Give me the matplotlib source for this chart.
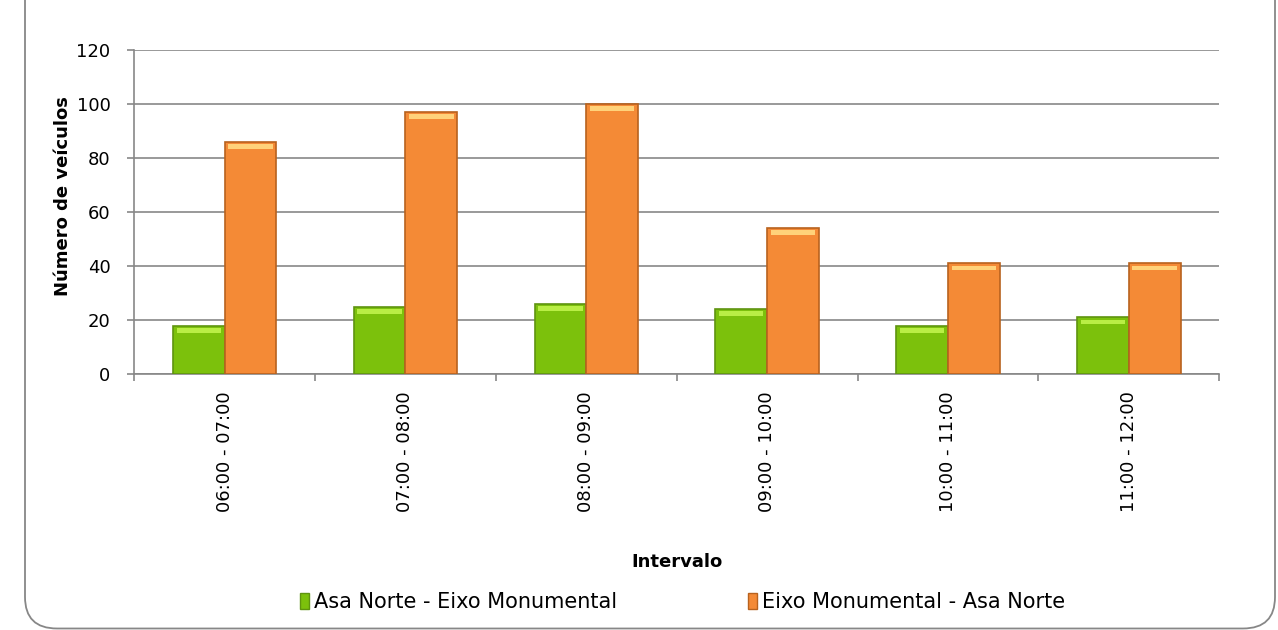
import matplotlib
matplotlib.use("Agg")
import matplotlib.pyplot as plt
import numpy as np
from matplotlib.patches import FancyBboxPatch, Patch

# dados
intervalos = ["06:00 - 07:00", "07:00 - 08:00", "08:00 - 09:00",
              "09:00 - 10:00", "10:00 - 11:00", "11:00 - 12:00"]
asa_norte_eixo = [18, 25, 26, 24, 18, 21]
eixo_asa_norte = [86, 97, 100, 54, 41, 41]
nomes_series = ["Asa Norte - Eixo Monumental", "Eixo Monumental - Asa Norte"]
y_ticks = [0, 20, 40, 60, 80, 100, 120]

plt.rcParams["font.family"] = ["DejaVu Sans"]

VERDE = "#7cc10c"
VERDE_BORDA = "#5f9410"
VERDE_TOPO = "#b9ee45"
LARANJA = "#f48a36"
LARANJA_BORDA = "#b8621e"
LARANJA_TOPO = "#ffd27a"
CINZA = "#878787"

fig = plt.figure(figsize=(12.78, 6.30), dpi=100)
ax = fig.add_axes([0.105, 0.406, 0.849, 0.515])

x = np.arange(len(intervalos))
largura = 0.286

for dados, desloc, cor, borda, topo in [
    (asa_norte_eixo, -largura / 2, VERDE, VERDE_BORDA, VERDE_TOPO),
    (eixo_asa_norte, largura / 2, LARANJA, LARANJA_BORDA, LARANJA_TOPO),
]:
    valores = np.array(dados, dtype=float)
    ax.bar(x + desloc, valores, largura, color=cor, edgecolor=borda,
           linewidth=1.2, zorder=3)
    # faixa clara no topo (efeito chanfrado)
    ax.bar(x + desloc, np.full_like(valores, 1.8), largura * 0.86,
           bottom=valores - 2.6, color=topo, linewidth=0, zorder=4)

ax.set_xlim(-0.5, len(intervalos) - 0.5)
ax.set_ylim(0, 120)
ax.set_yticks(y_ticks)
ax.set_yticklabels([str(v) for v in y_ticks], fontsize=13)
ax.yaxis.grid(True, color=CINZA, linewidth=1.2, zorder=0)
ax.set_axisbelow(True)

ax.set_xticks(x)
ax.set_xticklabels(intervalos, rotation=90, fontsize=13)
ax.set_xticks(np.arange(-0.5, len(intervalos)), minor=True)
ax.tick_params(axis="x", which="major", length=0, pad=12)
ax.tick_params(axis="x", which="minor", length=5, color=CINZA, width=1.2)
ax.tick_params(axis="y", length=5, color=CINZA, width=1.2, pad=12)

for lado in ["top", "right"]:
    ax.spines[lado].set_visible(False)
for lado in ["left", "bottom"]:
    ax.spines[lado].set_color(CINZA)
    ax.spines[lado].set_linewidth(1.2)

ax.set_ylabel("Número de veículos", fontsize=13, fontweight="bold")
ax.yaxis.set_label_coords(-0.057, 0.55)
ax.set_xlabel("Intervalo", fontsize=13, fontweight="bold")
ax.xaxis.set_label_coords(0.5, -0.55)

handles = [Patch(facecolor=VERDE, edgecolor=VERDE_BORDA),
           Patch(facecolor=LARANJA, edgecolor=LARANJA_BORDA)]
fig.legend(handles, nomes_series, loc="center left",
           bbox_to_anchor=(292 / 1278, 0.044), borderaxespad=0,
           ncol=2, frameon=False, fontsize=15, handlelength=0.4,
           handleheight=0.8, handletextpad=0.25, columnspacing=6.3)

# moldura arredondada
moldura = FancyBboxPatch((25 / 1278, 1.5 / 630), 1250 / 1278, 660 / 630,
                         boxstyle="round,pad=0,rounding_size=0.025",
                         transform=fig.transFigure, facecolor="none",
                         edgecolor=CINZA, linewidth=1.3, mutation_aspect=2.0)
fig.patches.append(moldura)

fig.savefig("out.png", dpi=100, facecolor="white")
